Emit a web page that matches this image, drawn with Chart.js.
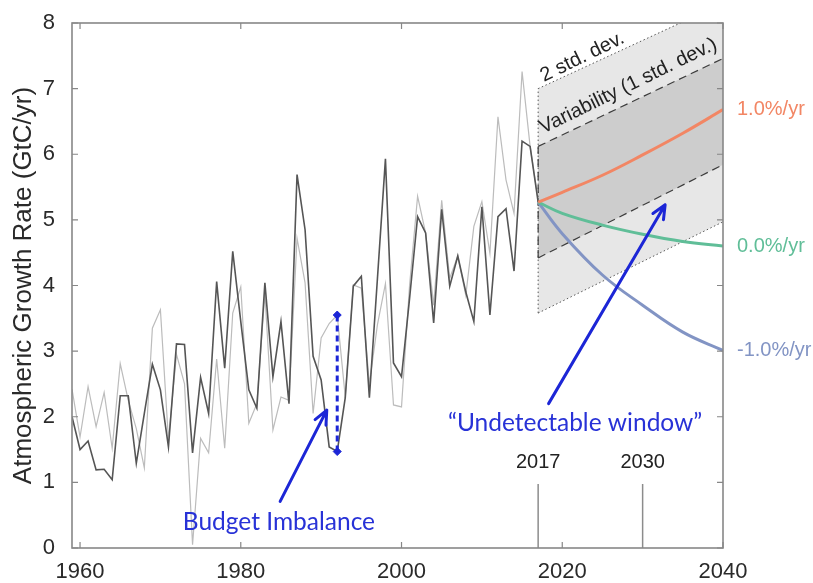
<!DOCTYPE html>
<html>
<head>
<meta charset="utf-8">
<script src="https://cdn.jsdelivr.net/npm/chart.js@4/dist/chart.umd.min.js"></script>
<style>
  html, body { margin: 0; padding: 0; background: #ffffff; }
  #wrap { width: 813px; height: 583px; }
</style>
</head>
<body>
<div id="wrap"><canvas id="c" width="813" height="583"></canvas></div>
<script>
// ---- Annual atmospheric CO2 growth rate (GtC/yr) ----
const years = [
  1959, 1960, 1961, 1962, 1963, 1964, 1965, 1966, 1967, 1968,
  1969, 1970, 1971, 1972, 1973, 1974, 1975, 1976, 1977, 1978,
  1979, 1980, 1981, 1982, 1983, 1984, 1985, 1986, 1987, 1988,
  1989, 1990, 1991, 1992, 1993, 1994, 1995, 1996, 1997, 1998,
  1999, 2000, 2001, 2002, 2003, 2004, 2005, 2006, 2007, 2008,
  2009, 2010, 2011, 2012, 2013, 2014, 2015, 2016, 2017
];
// measured growth (dark line)
const observedGrowth = [
  2.00, 1.50, 1.63, 1.19, 1.20, 1.04, 2.32, 2.32, 1.29, 2.05,
  2.80, 2.41, 1.54, 3.11, 3.10, 1.45, 2.60, 2.05, 4.06, 2.74,
  4.52, 3.45, 2.41, 2.13, 4.04, 2.61, 3.45, 2.20, 5.69, 4.85,
  2.92, 2.56, 1.54, 1.47, 2.29, 3.99, 4.14, 2.29, 4.10, 5.93,
  2.82, 2.61, 3.80, 5.05, 4.80, 3.43, 5.16, 3.99, 4.45, 3.90,
  3.45, 5.20, 3.55, 5.05, 5.17, 4.22, 6.20, 6.12, 5.27
];
// growth implied by emissions minus sinks (light line)
const budgetGrowth = [
  2.42, 1.69, 2.46, 1.85, 2.37, 1.52, 2.81, 2.25, 1.82, 1.22,
  3.35, 3.63, 1.65, 2.95, 2.50, 0.05, 1.67, 1.45, 2.88, 1.52,
  3.58, 3.98, 1.90, 2.20, 3.88, 1.80, 2.30, 2.25, 4.72, 4.04,
  2.05, 3.20, 3.42, 3.55, 2.30, 4.01, 3.96, 2.50, 3.40, 4.03,
  2.18, 2.15, 4.00, 5.36, 4.80, 3.70, 5.30, 4.11, 4.45, 3.85,
  4.90, 5.28, 4.49, 6.57, 5.61, 5.10, 7.26, 6.12, 5.30
];

// ---- Emission scenarios from 2017 ----
const projYears = [2017, 2020, 2025, 2030, 2035, 2040];
const growthPlus1 = [5.27, 5.42, 5.68, 5.99, 6.32, 6.68];
const growthZero  = [5.27, 5.10, 4.92, 4.78, 4.67, 4.60];
const growthMinus1 = [5.27, 4.79, 4.16, 3.70, 3.29, 3.01];
const scenarioLabels = ['1.0%/yr', '0.0%/yr', '-1.0%/yr'];

// ---- Natural variability envelopes ----
const bandYears = [2017, 2040];
const sd2Upper = [7.00, 8.30];
const sd2Lower = [3.58, 4.97];
const sd1Upper = [6.12, 7.46];
const sd1Lower = [4.42, 5.84];

// ---- Annotations ----
const imbalanceYear = 1992;
const imbalanceRange = [1.47, 3.55];
const windowYears = [2017, 2030];
const windowMarkRange = [0, 0.975];

const xTicks = [1960, 1980, 2000, 2020, 2040];
const yTicks = [0, 1, 2, 3, 4, 5, 6, 7, 8];

const pts = (xs, ys) => xs.map((x, i) => ({ x: x, y: ys[i] }));

const COL_OBS = 'rgb(85,85,85)';
const COL_BUD = 'rgb(188,188,188)';
const COL_UP = 'rgb(242,134,100)';
const COL_ZERO = 'rgb(96,190,152)';
const COL_DOWN = 'rgb(130,148,196)';
const COL_ANN = 'rgb(28,38,214)';

const base = { pointRadius: 0, fill: false, tension: 0 };
const curve = { pointRadius: 0, fill: false, tension: 0.4, borderWidth: 3, order: 5 };

const datasets = [
  // 2 std. dev. envelope
  Object.assign({}, base, { data: pts(bandYears, sd2Lower), borderColor: '#555', borderWidth: 1, borderDash: [1.5, 2.5], order: 100 }),
  Object.assign({}, base, { data: pts(bandYears, sd2Upper), borderColor: '#555', borderWidth: 1, borderDash: [1.5, 2.5], fill: '-1', backgroundColor: 'rgb(231,231,231)', order: 99 }),
  Object.assign({}, base, { data: [{ x: bandYears[0], y: sd2Lower[0] }, { x: bandYears[0], y: sd2Upper[0] }], borderColor: '#555', borderWidth: 1, borderDash: [1.5, 2.5], order: 98 }),
  // 1 std. dev. envelope
  Object.assign({}, base, { data: pts(bandYears, sd1Lower), borderColor: '#3c3c3c', borderWidth: 1.2, borderDash: [8, 5], order: 96 }),
  Object.assign({}, base, { data: pts(bandYears, sd1Upper), borderColor: '#3c3c3c', borderWidth: 1.2, borderDash: [8, 5], fill: '-1', backgroundColor: 'rgb(205,205,205)', order: 95 }),
  Object.assign({}, base, { data: [{ x: bandYears[0], y: sd1Lower[0] }, { x: bandYears[0], y: sd1Upper[0] }], borderColor: '#3c3c3c', borderWidth: 1.2, borderDash: [8, 5], order: 94 }),
  // markers for 2017 and 2030
  Object.assign({}, base, { data: [{ x: windowYears[0], y: windowMarkRange[0] }, { x: windowYears[0], y: windowMarkRange[1] }], borderColor: 'rgb(140,140,140)', borderWidth: 1.5, order: 30 }),
  Object.assign({}, base, { data: [{ x: windowYears[1], y: windowMarkRange[0] }, { x: windowYears[1], y: windowMarkRange[1] }], borderColor: 'rgb(140,140,140)', borderWidth: 1.5, order: 30 }),
  // series
  Object.assign({}, base, { data: pts(years, budgetGrowth), borderColor: COL_BUD, borderWidth: 1.2, order: 20 }),
  Object.assign({}, base, { data: pts(years, observedGrowth), borderColor: COL_OBS, borderWidth: 1.6, order: 10 }),
  // scenarios
  Object.assign({}, curve, { data: pts(projYears, growthPlus1), borderColor: COL_UP }),
  Object.assign({}, curve, { data: pts(projYears, growthZero), borderColor: COL_ZERO }),
  Object.assign({}, curve, { data: pts(projYears, growthMinus1), borderColor: COL_DOWN }),
  // budget imbalance bar
  { data: [{ x: imbalanceYear, y: imbalanceRange[0] }, { x: imbalanceYear, y: imbalanceRange[1] }],
    borderColor: COL_ANN, borderWidth: 3, borderDash: [6, 4], fill: false, tension: 0,
    pointStyle: 'rectRot', pointRadius: 4, pointBackgroundColor: COL_ANN, pointBorderColor: COL_ANN, pointBorderWidth: 1, order: 1 }
];

function drawText(ctx, txt, x, y, opt) {
  ctx.save();
  ctx.translate(x, y);
  if (opt.angle) ctx.rotate(opt.angle * Math.PI / 180);
  ctx.font = opt.font;
  ctx.fillStyle = opt.color;
  ctx.textAlign = opt.align || 'center';
  ctx.textBaseline = opt.baseline || 'middle';
  ctx.fillText(txt, 0, 0);
  ctx.restore();
}

function arrow(ctx, x0, y0, x1, y1) {
  const a = Math.atan2(y1 - y0, x1 - x0);
  const L = 15, w = 0.42;
  ctx.save();
  ctx.strokeStyle = COL_ANN;
  ctx.lineWidth = 3;
  ctx.lineCap = 'round';
  ctx.lineJoin = 'round';
  ctx.beginPath();
  ctx.moveTo(x0, y0);
  ctx.lineTo(x1, y1);
  ctx.moveTo(x1 - L * Math.cos(a - w), y1 - L * Math.sin(a - w));
  ctx.lineTo(x1, y1);
  ctx.lineTo(x1 - L * Math.cos(a + w), y1 - L * Math.sin(a + w));
  ctx.stroke();
  ctx.restore();
}

const decor = {
  id: 'decor',
  afterDraw(chart) {
    const { ctx, chartArea: a, scales: { x, y } } = chart;
    const X = v => x.getPixelForValue(v);
    const Y = v => y.getPixelForValue(v);

    // frame with inward ticks on all four sides
    ctx.save();
    ctx.strokeStyle = 'rgb(135,135,135)';
    ctx.lineWidth = 1.6;
    ctx.strokeRect(a.left, a.top, a.right - a.left, a.bottom - a.top);
    ctx.lineWidth = 1.2;
    ctx.beginPath();
    xTicks.forEach(v => {
      const px = X(v);
      ctx.moveTo(px, a.bottom); ctx.lineTo(px, a.bottom - 6);
      ctx.moveTo(px, a.top); ctx.lineTo(px, a.top + 6);
    });
    yTicks.forEach(v => {
      const py = Y(v);
      ctx.moveTo(a.left, py); ctx.lineTo(a.left + 6, py);
      ctx.moveTo(a.right, py); ctx.lineTo(a.right - 6, py);
    });
    ctx.stroke();
    ctx.restore();

    const helv = "'Liberation Sans', Arial, Helvetica, sans-serif";
    const sans = "Lato, 'Open Sans', sans-serif";

    // envelope captions
    drawText(ctx, '2 std. dev.', X(2022.5), Y(7.48), { font: '20px ' + helv, color: '#222', angle: -26 });
    drawText(ctx, 'Variability (1 std. dev.)', X(2028.2), Y(7.04), { font: '20px ' + helv, color: '#222', angle: -26 });

    // scenario labels at curve ends
    const ends = [growthPlus1, growthZero, growthMinus1];
    const cols = [COL_UP, COL_ZERO, COL_DOWN];
    ends.forEach((s, i) => {
      drawText(ctx, scenarioLabels[i], a.right + 14, Y(s[s.length - 1]), { font: '20px ' + helv, color: cols[i], align: 'left' });
    });

    // year markers
    drawText(ctx, '2017', X(windowYears[0]), Y(1.31), { font: '20px ' + helv, color: '#222' });
    drawText(ctx, '2030', X(windowYears[1]), Y(1.31), { font: '20px ' + helv, color: '#222' });

    // blue callouts
    drawText(ctx, '\u201CUndetectable window\u201D', X(2021.6), Y(1.9), { font: '24.5px ' + sans, color: 'rgb(40,50,215)' });
    drawText(ctx, 'Budget Imbalance', X(1984.75), Y(0.40), { font: '24.5px ' + sans, color: 'rgb(40,50,215)' });
    arrow(ctx, X(1984.9), Y(0.71), X(1990.7), Y(2.10));
    arrow(ctx, X(2018.3), Y(2.2), X(2032.8), Y(5.23));
  }
};

new Chart(document.getElementById('c'), {
  type: 'line',
  data: { datasets: datasets },
  options: {
    responsive: false,
    animation: false,
    devicePixelRatio: 1,
    layout: { padding: { left: 0, top: 23, right: 90, bottom: 0 } },
    plugins: {
      legend: { display: false },
      tooltip: { enabled: false },
      filler: { drawTime: 'beforeDatasetsDraw' }
    },
    scales: {
      x: {
        type: 'linear', min: 1959, max: 2040,
        afterBuildTicks: s => { s.ticks = xTicks.map(v => ({ value: v })); },
        afterFit: s => { s.height = 35; },
        grid: { display: false },
        border: { display: false },
        ticks: {
          color: '#2a2a2a', padding: 3, maxRotation: 0, autoSkip: false,
          font: { size: 22, family: "'Liberation Sans', Arial, sans-serif" },
          callback: v => String(v)
        }
      },
      y: {
        type: 'linear', min: 0, max: 8,
        afterBuildTicks: s => { s.ticks = yTicks.map(v => ({ value: v })); },
        afterFit: s => { s.width = 72; },
        grid: { display: false },
        border: { display: false },
        ticks: {
          color: '#2a2a2a', padding: 9,
          font: { size: 22, family: "'Liberation Sans', Arial, sans-serif" }
        },
        title: {
          display: true, text: 'Atmospheric Growth Rate (GtC/yr)', color: '#2a2a2a',
          font: { size: 26, family: "'Liberation Sans', Arial, sans-serif" },
          padding: { top: 8, bottom: 0 }
        }
      }
    }
  },
  plugins: [decor]
});
</script>
</body>
</html>
